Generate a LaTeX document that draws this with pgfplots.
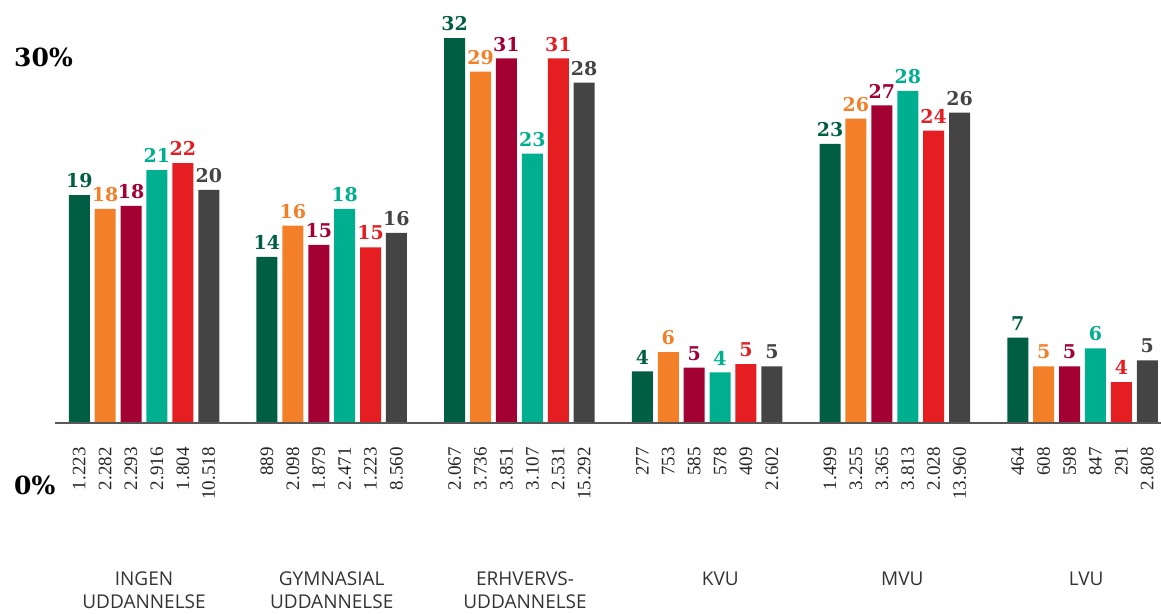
\documentclass[border=0pt]{standalone}
\usepackage{pgfplots}
\pgfplotsset{compat=1.18}
\usepackage{pgfplotstable}
\usepackage{fontspec}
\setmainfont{Liberation Serif}
\newfontfamily\numfont{DejaVu Serif}
\newfontfamily\catfont{Open Sans}

\definecolor{cA}{HTML}{005E43}
\definecolor{cB}{HTML}{F37F29}
\definecolor{cC}{HTML}{A30033}
\definecolor{cD}{HTML}{00AF8F}
\definecolor{cE}{HTML}{E51E22}
\definecolor{cF}{HTML}{444444}

% g = group, y = bar height (%), lab = printed value, n = count
\pgfplotstableread{
g y lab n
0 18.95 19 1.223
1 13.8 14 889
2 32.0 32 2.067
3 4.3 4 277
4 23.2 23 1.499
5 7.1 7 464
}\tA
\pgfplotstableread{
g y lab n
0 17.8 18 2.282
1 16.4 16 2.098
2 29.2 29 3.736
3 5.9 6 753
4 25.3 26 3.255
5 4.7 5 608
}\tB
\pgfplotstableread{
g y lab n
0 18.04 18 2.293
1 14.8 15 1.879
2 30.3 31 3.851
3 4.6 5 585
4 26.4 27 3.365
5 4.7 5 598
}\tC
\pgfplotstableread{
g y lab n
0 21.03 21 2.916
1 17.8 18 2.471
2 22.4 23 3.107
3 4.2 4 578
4 27.6 28 3.813
5 6.2 6 847
}\tD
\pgfplotstableread{
g y lab n
0 21.6 22 1.804
1 14.6 15 1.223
2 30.3 31 2.531
3 4.9 5 409
4 24.3 24 2.028
5 3.4 4 291
}\tE
\pgfplotstableread{
g y lab n
0 19.37 20 10.518
1 15.8 16 8.560
2 28.3 28 15.292
3 4.7 5 2.602
4 25.8 26 13.960
5 5.2 5 2.808
}\tF

% #1 table, #2 colour, #3 shift in pt
\newcommand\barseries[3]{%
  \addplot[ybar, bar width=21pt, bar shift=#3pt, fill=#2, draw=none,
    nodes near coords, point meta=explicit symbolic,
    nodes near coords style={font=\numfont\bfseries\fontsize{19}{19}\selectfont,
      text=#2, xshift=#3pt, anchor=south, inner sep=0pt, yshift=7pt}]
    table[x=g, y=y, meta=lab]{#1};
  \addplot[draw=none, nodes near coords, point meta=explicit symbolic,
    nodes near coords style={font=\fontsize{19}{19}\selectfont, text=black!85,
      xshift=#3pt, rotate=90, anchor=east, inner sep=0pt}]
    table[x=g, y expr=-2, meta=n]{#1};
}

\begin{document}
\begin{tikzpicture}
\begin{axis}[
  scale only axis, width=1161pt, height=613pt,
  xmin=-0.7672, xmax=5.4182, ymin=-15.794, ymax=35.162,
  axis line style={draw=none}, major tick length=0pt,
  ytick=\empty,
  xtick={0,1,2.03,3.07,4.04,5.02},
  xticklabels={{INGEN\\UDDANNELSE},{GYMNASIAL\\UDDANNELSE},{ERHVERVS-\\UDDANNELSE},KVU,MVU,LVU},
  xticklabel style={align=center, font=\catfont\fontsize{19}{23}\selectfont,
    text=black!80, anchor=north, inner sep=0pt, yshift=41pt},
  clip=false,
]
\barseries{\tA}{cA}{-64.75}
\barseries{\tB}{cB}{-38.85}
\barseries{\tC}{cC}{-12.95}
\barseries{\tD}{cD}{12.95}
\barseries{\tE}{cE}{38.85}
\barseries{\tF}{cF}{64.75}
\draw[black!65, line width=1.5pt] (axis cs:-0.474,0) -- (axis cs:5.4182,0);
\node[anchor=west, inner sep=0pt, font=\numfont\bfseries\fontsize{25}{25}\selectfont]
  at (axis cs:-0.6926,30.42) {30\%};
\node[anchor=west, inner sep=0pt, font=\numfont\bfseries\fontsize{25}{25}\selectfont]
  at (axis cs:-0.6926,-5.15) {0\%};
\end{axis}
\pgfresetboundingbox
\useasboundingbox (current axis.south west) rectangle (current axis.north east);
\end{tikzpicture}
\end{document}
